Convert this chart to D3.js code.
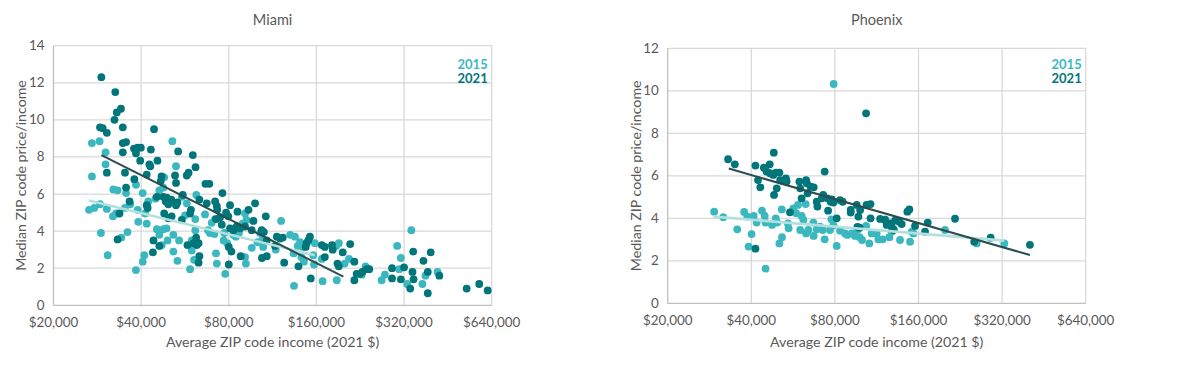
<!DOCTYPE html>
<html><head><meta charset="utf-8">
<script src="https://cdn.jsdelivr.net/npm/d3@7"></script>
<style>
body{margin:0;background:#fff;}
text{font-family:Lato,"Open Sans",sans-serif;}
</style></head>
<body><svg id="c" width="1189" height="365"></svg>
<script>
// x tick labels (log2 scale) and y ticks
const xTicks = [20000, 40000, 80000, 160000, 320000, 640000];
const miamiYTicks = [0, 2, 4, 6, 8, 10, 12, 14];
const phoenixYTicks = [0, 2, 4, 6, 8, 10, 12];
const seriesNames = ["2015", "2021"];

// Miami: [average income (2021 $), median price/income]
const miami2021 = [
 [29200,12.3],[32600,11.5],[33000,10.4],[34100,10.6],[32400,10.0],[28900,9.6],[29500,9.55],[30500,9.3],[34600,9.6],
 [34600,8.75],[35500,8.8],[34600,8.25],[37800,8.45],[38900,8.5],[39900,8.5],[38400,8.2],[39700,7.8],[44300,9.5],
 [43200,8.4],[45500,7.8],[42700,7.6],[43000,7.5],[30500,7.15],[35200,7.15],[41800,7.05],[47000,6.95],[46700,6.7],
 [52300,7.0],[53600,8.3],[52700,6.6],[60200,8.1],[61500,7.45],[58200,7.15],[57400,7.0],[66500,6.55],[68600,6.55],
 [76100,6.05],[55600,5.95],[35500,6.35],[37900,6.8],[36500,5.6],[41800,5.4],[42100,5.25],[45300,5.85],[47700,5.85],
 [49000,5.8],[50000,5.6],[50800,5.7],[53300,5.55],[52700,5.4],[48600,5.6],[49600,5.45],[48000,4.95],[49600,4.7],
 [50900,4.8],[55200,4.6],[58900,4.95],[59300,5.15],[63400,5.7],[67200,5.5],[71800,5.6],[72800,5.35],[73000,5.15],
 [74700,4.75],[72300,4.65],[80800,5.4],[78300,5.0],[79700,4.8],[85700,5.05],[93500,5.15],[98500,5.5],[75700,4.35],
 [80800,4.15],[83000,4.05],[85200,4.25],[87500,4.15],[91000,4.25],[95900,4.05],[97200,4.55],[107200,4.8],[103800,4.05],
 [105600,3.95],[117000,3.7],[120000,3.6],[122600,3.65],[115400,3.2],[108000,3.5],[104000,2.55],[108000,2.65],[124000,2.3],
 [80000,3.15],[81700,2.9],[80000,2.2],[63400,2.65],[63000,2.3],[57700,3.25],[60500,3.35],[62100,3.25],[63000,3.35],
 [61800,3.65],[44100,3.5],[43900,2.85],[46200,3.2],[33200,3.55],[33700,4.95],[87900,2.65],[138800,2.1],[152000,3.7],
 [150000,3.5],[148000,3.35],[147000,3.15],[153000,1.45],[167000,3.25],[171000,3.15],[181000,3.25],[182000,3.0],[171000,2.6],
 [189000,2.25],[191000,2.1],[197000,2.85],[209000,3.3],[216000,2.35],[216000,1.35],[220000,1.7],[226000,1.7],[230000,1.8],
 [238000,1.95],[243000,1.95],[291000,2.0],[291000,1.45],[312000,1.4],[320000,2.05],[336000,0.9],[342000,1.8],[345000,1.4],
 [344000,2.9],[373000,2.4],[386000,0.65],[386000,1.8],[395000,2.85],[423000,1.6],[525000,0.9],[580000,1.15],[620000,0.8]
];
const miami2015 = [
 [27100,8.75],[28800,8.85],[30200,8.25],[30200,7.6],[27100,6.95],[26500,5.15],[27600,5.25],[29100,3.9],[30700,2.7],
 [28900,5.45],[30500,5.2],[32100,6.25],[33200,6.2],[32000,4.8],[32800,4.95],[35500,6.05],[35200,5.25],[34200,3.65],
 [35900,3.95],[38400,1.9],[40500,2.35],[41000,2.7],[38400,6.5],[40500,6.05],[36700,5.45],[38900,5.15],[39100,4.5],
 [41800,4.4],[41300,4.95],[42300,5.6],[44800,5.75],[46200,6.2],[47700,6.35],[48000,6.9],[45300,4.1],[46200,3.8],
 [47700,4.1],[48900,4.15],[49300,3.5],[47100,3.25],[51600,3.8],[51200,8.85],[52700,7.5],[51600,2.9],[53300,2.4],
 [54000,3.5],[55200,5.85],[56600,4.85],[57400,5.5],[58900,1.95],[60800,2.45],[59700,2.95],[59700,3.5],[61400,4.05],
 [61400,4.65],[61900,5.95],[66300,4.9],[69900,4.45],[67900,4.05],[68900,3.9],[71800,4.65],[71400,3.85],[72800,2.25],
 [72300,2.8],[77800,1.7],[76800,3.5],[77200,3.9],[79000,3.35],[83000,3.8],[84600,3.7],[86700,3.9],[89300,4.4],
 [91000,4.95],[92000,4.6],[91600,2.25],[91000,2.6],[96000,3.1],[100400,3.4],[102500,3.9],[104000,3.5],[105000,3.15],
 [116000,3.0],[121000,4.55],[130000,3.8],[135000,3.7],[133600,2.8],[134000,1.05],[138000,3.2],[140600,3.4],[142000,2.6],
 [145000,2.35],[156000,2.7],[158000,3.35],[157000,2.2],[144000,3.15],[168000,1.3],[167000,2.5],[187000,3.2],[191000,3.35],
 [188000,1.35],[207000,2.5],[200000,2.25],[236000,2.1],[229000,1.65],[268000,1.35],[275000,1.65],[303000,3.2],[312000,2.55],
 [308000,1.95],[339000,4.05],[328000,1.15],[379000,1.6],[370000,1.15],[417000,1.8]
];
const miamiTrend2021 = [[29200,8.1],[198000,1.55]];
const miamiTrend2015 = [[26500,5.65],[158000,2.7]];

// Phoenix
const phoenix2021 = [
 [33000,6.78],[34900,6.54],[41400,6.48],[42300,5.8],[43100,5.46],[41400,2.57],[44400,6.38],[46600,6.54],[48200,7.09],
 [45400,6.2],[46700,6.12],[48000,6.04],[49100,6.15],[50500,6.15],[48300,5.1],[49400,5.41],[50800,5.8],[51900,5.77],
 [53300,5.88],[53600,5.73],[55100,4.28],[59600,5.73],[60000,5.41],[60700,4.94],[63000,5.8],[63400,5.65],[63800,5.18],
 [65400,5.49],[67100,5.46],[73500,6.2],[68800,4.78],[69200,4.55],[71700,4.94],[72600,5.1],[75200,4.94],[75600,4.36],
 [77300,4.78],[77900,4.89],[79000,4.74],[83500,4.86],[85300,4.78],[81200,4.0],[91200,4.39],[91200,4.27],[95900,4.63],
 [97200,4.08],[98600,4.39],[103600,8.94],[104000,4.63],[107500,4.67],[107500,4.0],[96400,3.6],[98200,3.56],[116400,3.97],
 [121300,3.92],[122900,3.69],[126300,3.76],[128100,3.6],[129900,3.45],[131700,3.89],[136500,3.84],[139200,3.73],[145900,4.31],
 [148300,4.42],[155500,3.64],[168900,3.37],[172700,3.8],[216600,3.98],[254000,2.9],[291000,3.09],[403000,2.75]
];
const phoenix2015 = [
 [29400,4.31],[31700,4.05],[35600,3.48],[37700,4.3],[38700,4.08],[40100,3.26],[39100,2.67],[40800,4.11],[41800,3.8],
 [43700,4.36],[44700,4.11],[45000,1.63],[45000,3.8],[47500,3.69],[49000,4.0],[49600,3.8],[50500,2.82],[51600,3.11],
 [51500,4.42],[54200,3.76],[54500,3.53],[56700,4.47],[58000,4.24],[58900,4.63],[60000,3.45],[60700,4.11],[61600,3.92],
 [62800,4.67],[63000,3.29],[64200,3.45],[66900,3.8],[67100,3.17],[68800,3.48],[70700,3.61],[72300,3.45],[73500,3.01],
 [76800,3.45],[77700,3.95],[79000,3.67],[81200,2.7],[83500,3.42],[87000,3.29],[88700,3.22],[92000,3.29],[94500,3.17],
 [96400,3.45],[98200,3.11],[100200,2.98],[103600,3.64],[106400,2.82],[108500,3.29],[113100,3.29],[114700,3.01],[118900,3.01],
 [121300,3.95],[125700,3.11],[128100,3.37],[130600,3.48],[137300,2.98],[149200,2.9],[151300,3.37],[153400,3.29],
 [199400,3.45],[259000,2.82],[326000,2.82],[79200,10.32]
];
const phoenixTrend2021 = [[33200,6.34],[403000,2.27]];
const phoenixTrend2015 = [[29200,4.08],[326000,2.95]];

const C15 = "#3bb8bf", C21 = "#00767a", T21 = "#2c4c4e", T15 = "#b3e0dc";
const svg = d3.select("#c");

function panel(o){
  const g = svg.append("g");
  const x = d3.scaleLog().base(2).domain([20000,640000]).range([o.left,o.right]);
  const y = d3.scaleLinear().domain([0,o.yMax]).range([o.bottom,o.top]);
  // grid
  g.selectAll(".gx").data(xTicks.slice(1)).join("line")
    .attr("x1",d=>x(d)).attr("x2",d=>x(d)).attr("y1",o.top).attr("y2",o.bottom)
    .attr("stroke","#d9d9d9").attr("stroke-width",1.3);
  g.selectAll(".gy").data(o.yTicks.slice(1)).join("line")
    .attr("x1",o.left).attr("x2",o.right).attr("y1",d=>y(d)).attr("y2",d=>y(d))
    .attr("stroke","#d9d9d9").attr("stroke-width",1.3);
  // axes lines
  g.append("line").attr("x1",o.left).attr("x2",o.left).attr("y1",o.top).attr("y2",o.bottom).attr("stroke","#bfbfbf").attr("stroke-width",1.3);
  g.append("line").attr("x1",o.left).attr("x2",o.right).attr("y1",o.bottom).attr("y2",o.bottom).attr("stroke","#bfbfbf").attr("stroke-width",1.3);
  // tick labels
  const fmt = d3.format("$,");
  g.selectAll(".tx").data(xTicks).join("text")
    .attr("x",d=>x(d)).attr("y",o.bottom+22).attr("text-anchor","middle")
    .attr("font-size",13.4).attr("fill","#595959").text(d=>fmt(d));
  g.selectAll(".ty").data(o.yTicks).join("text")
    .attr("x",o.left-9).attr("y",d=>y(d)+4.5).attr("text-anchor","end")
    .attr("font-size",13.4).attr("fill","#595959").text(d=>d);
  // titles
  g.append("text").attr("x",(o.left+o.right)/2).attr("y",25).attr("text-anchor","middle")
    .attr("font-size",14.5).attr("fill","#595959").text(o.title);
  g.append("text").attr("x",(o.left+o.right)/2).attr("y",347).attr("text-anchor","middle")
    .attr("font-size",14.2).attr("fill","#595959").text("Average ZIP code income (2021 $)");
  g.append("text").attr("transform",`translate(${o.yLabX},${(o.top+o.bottom)/2}) rotate(-90)`)
    .attr("text-anchor","middle").attr("font-size",14.2).attr("fill","#595959").text("Median ZIP code price/income");
  // dots
  g.selectAll(".d15").data(o.d15).join("circle")
    .attr("cx",d=>x(d[0])).attr("cy",d=>y(d[1])).attr("r",3.9).attr("fill",C15);
  g.selectAll(".d21").data(o.d21).join("circle")
    .attr("cx",d=>x(d[0])).attr("cy",d=>y(d[1])).attr("r",3.9).attr("fill",C21);
  const line = d3.line().x(d=>x(d[0])).y(d=>y(d[1]));
  g.append("path").attr("d",line(o.t15)).attr("stroke",T15).attr("stroke-width",2.6).attr("fill","none");
  g.append("path").attr("d",line(o.t21)).attr("stroke",T21).attr("stroke-width",2).attr("fill","none");
  // legend
  g.selectAll(".lg").data(seriesNames).join("text")
    .attr("x",o.right-4).attr("y",(d,i)=>69+i*14).attr("text-anchor","end")
    .attr("font-size",13).attr("font-weight","bold").attr("fill",(d,i)=>i?C21:C15).text(d=>d);
}

panel({left:53.5,right:491.7,top:45.7,bottom:305.3,yMax:14,yTicks:miamiYTicks,title:"Miami",yLabX:26,
  d15:miami2015,d21:miami2021,t15:miamiTrend2015,t21:miamiTrend2021});
panel({left:667.7,right:1085.7,top:48.3,bottom:303.3,yMax:12,yTicks:phoenixYTicks,title:"Phoenix",yLabX:641,
  d15:phoenix2015,d21:phoenix2021,t15:phoenixTrend2015,t21:phoenixTrend2021});
</script></body></html>
